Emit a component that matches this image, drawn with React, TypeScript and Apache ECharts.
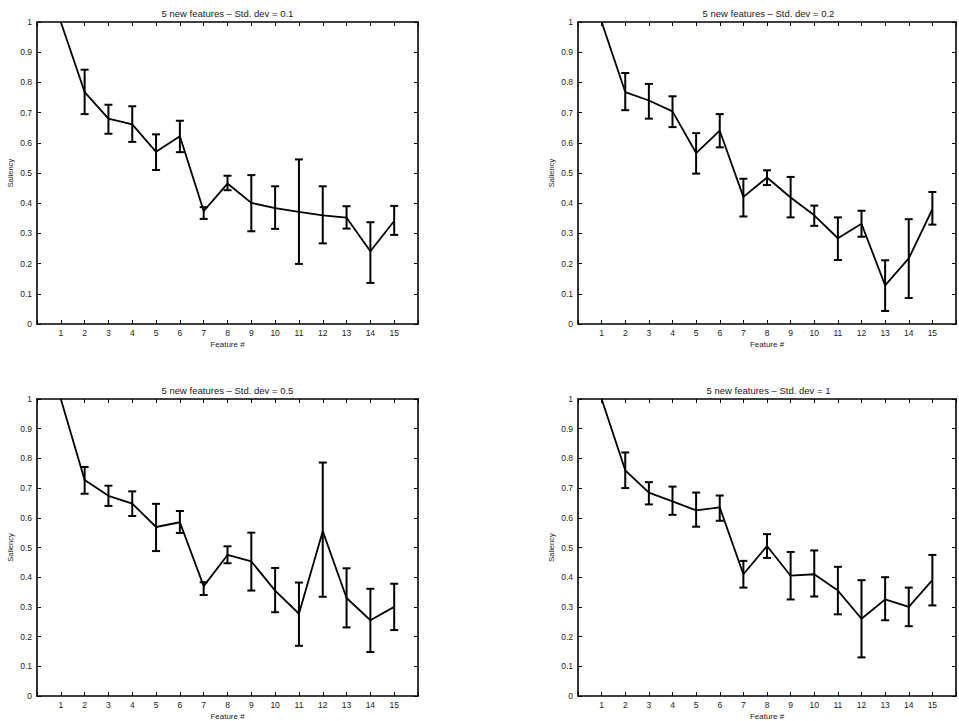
import React, { useEffect, useRef } from "react";
import * as echarts from "echarts";

const features = [1, 2, 3, 4, 5, 6, 7, 8, 9, 10, 11, 12, 13, 14, 15];
const titles = [
  "5 new features \u2013 Std. dev = 0.1",
  "5 new features \u2013 Std. dev = 0.2",
  "5 new features \u2013 Std. dev = 0.5",
  "5 new features \u2013 Std. dev = 1",
];

// Std. dev = 0.1
const mean01 = [1.0, 0.768, 0.68, 0.661, 0.57, 0.622, 0.374, 0.465, 0.401, 0.384, 0.371, 0.36, 0.352, 0.241, 0.341];
const low01 = [null, 0.695, 0.63, 0.603, 0.51, 0.569, 0.348, 0.443, 0.307, 0.315, 0.199, 0.267, 0.316, 0.136, 0.295];
const high01 = [null, 0.842, 0.726, 0.721, 0.628, 0.673, 0.387, 0.491, 0.493, 0.456, 0.545, 0.456, 0.39, 0.337, 0.391];

// Std. dev = 0.2
const mean02 = [1.0, 0.768, 0.74, 0.704, 0.566, 0.64, 0.421, 0.485, 0.419, 0.36, 0.284, 0.332, 0.128, 0.217, 0.38];
const low02 = [null, 0.708, 0.68, 0.652, 0.498, 0.585, 0.356, 0.46, 0.353, 0.325, 0.212, 0.289, 0.043, 0.086, 0.329];
const high02 = [null, 0.831, 0.795, 0.754, 0.632, 0.695, 0.481, 0.509, 0.487, 0.392, 0.353, 0.375, 0.211, 0.347, 0.437];

// Std. dev = 0.5
const mean05 = [1.0, 0.727, 0.674, 0.648, 0.569, 0.585, 0.37, 0.475, 0.453, 0.355, 0.277, 0.555, 0.33, 0.255, 0.3];
const low05 = [null, 0.681, 0.64, 0.606, 0.488, 0.549, 0.34, 0.447, 0.355, 0.282, 0.169, 0.334, 0.231, 0.148, 0.222];
const high05 = [null, 0.771, 0.708, 0.689, 0.647, 0.623, 0.383, 0.504, 0.55, 0.431, 0.382, 0.786, 0.43, 0.361, 0.378];

// Std. dev = 1
const mean1 = [1.0, 0.76, 0.685, 0.655, 0.625, 0.635, 0.41, 0.505, 0.405, 0.41, 0.355, 0.26, 0.325, 0.3, 0.39];
const low1 = [null, 0.7, 0.645, 0.61, 0.57, 0.59, 0.365, 0.465, 0.325, 0.335, 0.275, 0.13, 0.255, 0.235, 0.305];
const high1 = [null, 0.82, 0.72, 0.705, 0.685, 0.675, 0.455, 0.545, 0.485, 0.49, 0.435, 0.39, 0.4, 0.365, 0.475];

const panels = [
  { title: titles[0], mean: mean01, low: low01, high: high01 },
  { title: titles[1], mean: mean02, low: low02, high: high02 },
  { title: titles[2], mean: mean05, low: low05, high: high05 },
  { title: titles[3], mean: mean1, low: low1, high: high1 },
];

const FONT = "Liberation Sans, Arial, Helvetica, sans-serif";

export default function App() {
  const ref = useRef<HTMLDivElement>(null);
  useEffect(() => {
    if (!ref.current) return;
    const chart = echarts.init(ref.current, null, { renderer: "svg" });
    const grids = [
      { left: 37, top: 22, width: 381, height: 302 },
      { left: 578, top: 22, width: 380, height: 302 },
      { left: 37, top: 399, width: 381, height: 300 },
      { left: 578, top: 399, width: 380, height: 300 },
    ];
    const xAxes: any[] = [];
    const yAxes: any[] = [];
    const series: any[] = [];
    const graphics: any[] = [];
    const lineStyleAxis = { color: "#000", width: 1.6 };
    grids.forEach((g, i) => {
      xAxes.push({
        type: "value", gridIndex: i, position: "bottom", min: 0, max: 16, interval: 1,
        axisLine: { show: true, onZero: false, lineStyle: lineStyleAxis },
        axisTick: { show: true, inside: true, length: 4, lineStyle: { color: "#000", width: 1 } },
        splitLine: { show: false },
        axisLabel: {
          show: true, margin: 4, fontSize: 8.5, color: "#222", fontFamily: FONT,
          formatter: (v: number) => (v >= 1 && v <= 15 ? String(v) : ""),
        },
        name: "Feature #", nameLocation: "middle", nameGap: 16,
        nameTextStyle: { fontSize: 8, color: "#222", fontFamily: FONT },
      });
      xAxes.push({
        type: "value", gridIndex: i, position: "top", min: 0, max: 16, interval: 1,
        axisLine: { show: true, onZero: false, lineStyle: lineStyleAxis },
        axisTick: { show: true, inside: true, length: 4, lineStyle: { color: "#000", width: 1 } },
        splitLine: { show: false }, axisLabel: { show: false },
      });
      yAxes.push({
        type: "value", gridIndex: i, position: "left", min: 0, max: 1, interval: 0.1,
        axisLine: { show: true, onZero: false, lineStyle: lineStyleAxis },
        axisTick: { show: true, inside: true, length: 4, lineStyle: { color: "#000", width: 1 } },
        splitLine: { show: false },
        axisLabel: {
          show: true, margin: 5, fontSize: 8.5, color: "#222", fontFamily: FONT,
          formatter: (v: number) => {
            const r = Math.round(v * 10) / 10;
            return r === 0 ? "0" : r === 1 ? "1" : r.toFixed(1);
          },
        },
        name: "Saliency", nameLocation: "middle", nameGap: 23,
        nameTextStyle: { fontSize: 7.5, color: "#222", fontFamily: FONT },
      });
      yAxes.push({
        type: "value", gridIndex: i, position: "right", min: 0, max: 1, interval: 0.1,
        axisLine: { show: true, onZero: false, lineStyle: lineStyleAxis },
        axisTick: { show: true, inside: true, length: 4, lineStyle: { color: "#000", width: 1 } },
        splitLine: { show: false }, axisLabel: { show: false },
      });
      const p = panels[i];
      series.push({
        type: "custom",
        xAxisIndex: i * 2, yAxisIndex: i * 2,
        encode: { x: 0, y: [1, 2] },
        data: features
          .map((f, k) => [f, p.low[k], p.high[k]])
          .filter((d) => d[1] != null && d[2] != null),
        renderItem: (params: any, api: any) => {
          const x = api.value(0);
          const pl = api.coord([x, api.value(1)]);
          const ph = api.coord([x, api.value(2)]);
          const hw = 4;
          const style = { stroke: "#000", lineWidth: 2, fill: null };
          return {
            type: "group",
            children: [
              { type: "line", shape: { x1: pl[0], y1: pl[1], x2: ph[0], y2: ph[1] }, style },
              { type: "line", shape: { x1: pl[0] - hw, y1: pl[1], x2: pl[0] + hw, y2: pl[1] }, style },
              { type: "line", shape: { x1: ph[0] - hw, y1: ph[1], x2: ph[0] + hw, y2: ph[1] }, style },
            ],
          };
        },
        z: 3,
      });
      series.push({
        type: "line",
        xAxisIndex: i * 2, yAxisIndex: i * 2,
        data: features.map((f, k) => [f, p.mean[k]]),
        symbol: "none",
        lineStyle: { color: "#000", width: 1.8 },
        z: 4,
      });
      graphics.push({
        type: "text",
        x: g.left + 190.5,
        y: g.top - 9,
        style: {
          text: p.title, fontSize: 9.5, fill: "#222", fontFamily: FONT,
          textAlign: "center", textVerticalAlign: "middle",
        },
      });
    });
    chart.setOption({
      animation: false,
      backgroundColor: "#fff",
      grid: grids.map((g) => ({ ...g, containLabel: false })),
      xAxis: xAxes,
      yAxis: yAxes,
      series,
      graphic: graphics,
    });
    return () => chart.dispose();
  }, []);
  return (
    <div
      ref={ref}
      style={{ position: "fixed", left: 0, top: 0, width: 959, height: 721 }}
    />
  );
}
